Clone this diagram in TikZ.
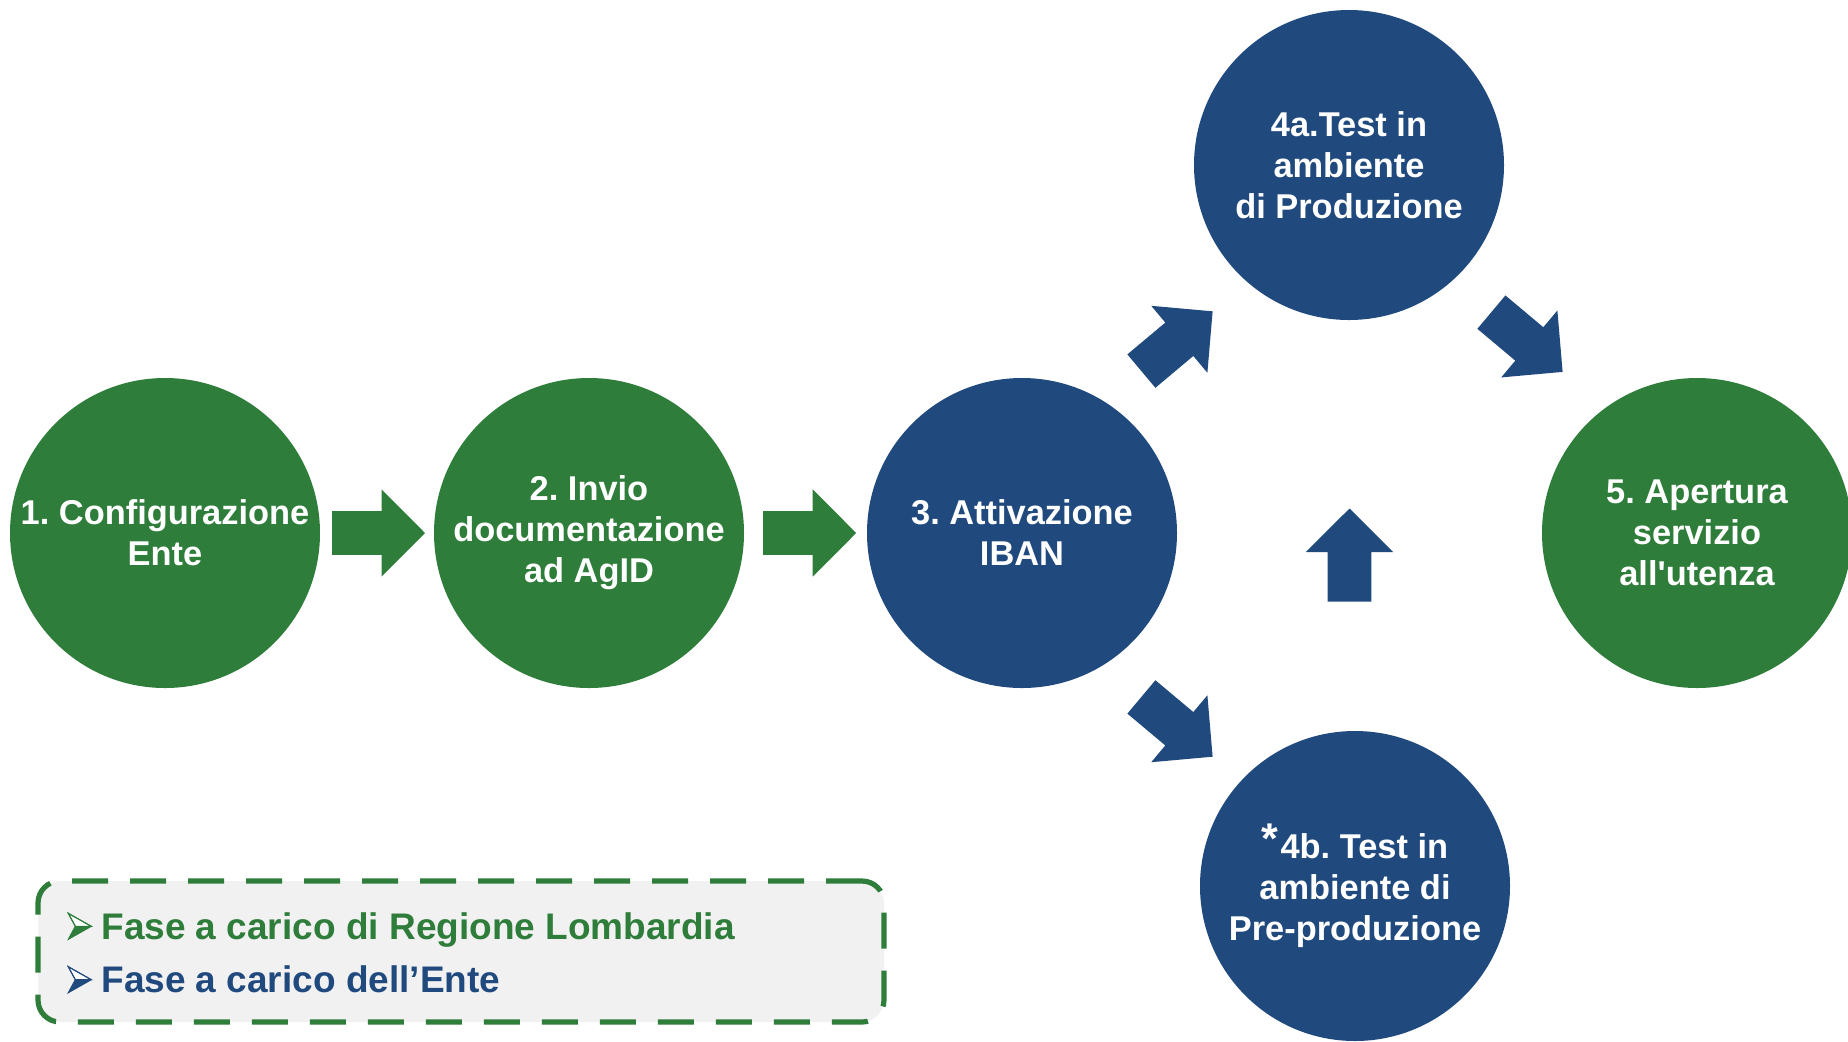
\documentclass[tikz,border=0pt]{standalone}
\usepackage{fontspec}
\setmainfont{Liberation Sans}[Ligatures=TeXOff]
\definecolor{pgreen}{RGB}{46,125,58}
\definecolor{pblue}{RGB}{32,74,126}
\definecolor{legfill}{RGB}{241,241,241}
\tikzset{
  stage/.style={circle, minimum size=155pt, inner sep=0pt, align=center,
    text=white, font=\frenchspacing\bfseries\fontsize{17.2}{20.5}\selectfont},
  greenstage/.style={stage, fill=pgreen},
  bluestage/.style={stage, fill=pblue},
  blockarrow/.pic={\fill (-46.5,-21.8) -- (3,-21.8) -- (3,-43.7) -- (46.5,0)
     -- (3,43.7) -- (3,21.8) -- (-46.5,21.8) -- cycle;},
  bulletarrow/.pic={
     \fill (7,-13) -- (23,-13) -- (0,0) -- cycle;
     \filldraw[fill=white, line width=0.5pt, line join=miter] (0,-26) -- (23,-13) -- (7,-13) -- cycle;
     \draw[line width=0.5pt] (0,-26) -- (23,-13) -- (0,0) -- (7,-13) -- cycle;},
  legendbox/.style={draw=pgreen, line width=2.6pt, dash pattern=on 18pt off 11pt,
    fill=legfill, rounded corners=11pt, minimum width=423pt, minimum height=70.5pt, inner sep=0pt},
  legendtext/.style={anchor=base west, inner sep=0pt, font=\frenchspacing\bfseries\fontsize{18.5}{22}\selectfont},
}
\begin{document}
\begin{tikzpicture}[x=0.5pt,y=-0.5pt]
\useasboundingbox (0,0) rectangle (1848,1041);
\clip (0,0) rectangle (1848,1041);

% stages
\node[greenstage] (s1) at (165,533) {1. Configurazione\\Ente};
\node[greenstage] (s2) at (589,533) {2. Invio\\documentazione\\ad AgID};
\node[bluestage] (s3) at (1022,533) {3. Attivazione\\IBAN};
\node[bluestage] (s4a) at (1349,165) {4a.Test in\\ambiente\\di Produzione};
\node[greenstage] (s5) at (1697,533) {5. Apertura\\servizio\\all'utenza};
\node[bluestage] (s4b) at (1355,886) {{\fontsize{21.5}{20}\selectfont\raisebox{2.5pt}{*}\kern1pt}4b. Test in\\ambiente di\\Pre-produzione};

% block arrows
\pic[pgreen] at (378.5,533) {blockarrow};
\pic[pgreen] at (809.7,533) {blockarrow};
\pic[pblue, rotate=40] at (1177,341.2) {blockarrow};
\pic[pblue, rotate=-40] at (1177,726.8) {blockarrow};
\pic[pblue, rotate=-40] at (1527,342) {blockarrow};
\pic[pblue, rotate=90] at (1349.5,555) {blockarrow};

% legend
\node[legendbox] (legend) at (461,951.5) {};
\pic[pgreen] at (68.3,939.3) {bulletarrow};
\node[legendtext, text=pgreen] (l1) at (101,939) {Fase a carico di Regione Lombardia};
\pic[pblue] at (68.3,992.7) {bulletarrow};
\node[legendtext, text=pblue] (l2) at (101,992) {Fase a carico dell’Ente};
\end{tikzpicture}
\end{document}
